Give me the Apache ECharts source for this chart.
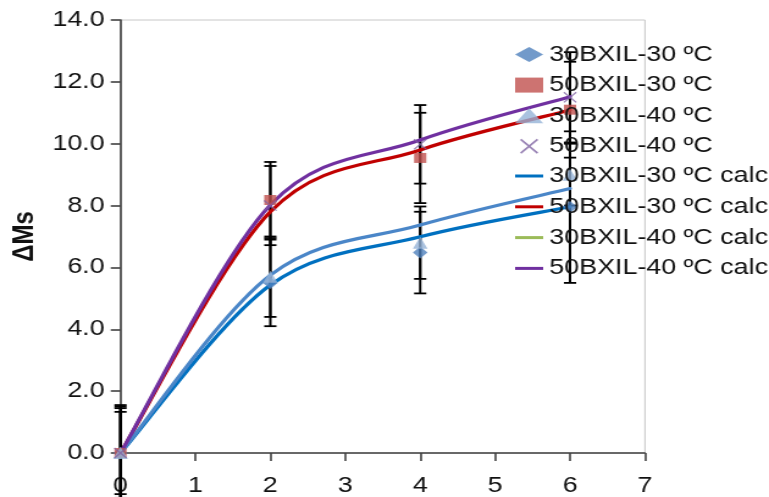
<!DOCTYPE html>
<html>
<head>
<meta charset="utf-8">
<script src="https://cdn.jsdelivr.net/npm/echarts@6/dist/echarts.min.js"></script>
<style>
  html, body { margin: 0; padding: 0; background: #fff; overflow: hidden; }
  #frame { width: 769px; height: 497px; overflow: hidden; }
  /* chart is laid out narrower and widened horizontally */
  #chart { width: 630px; height: 497px; transform: scaleX(1.2206); transform-origin: 0 0; }
</style>
</head>
<body>
<div id="frame"><div id="chart"></div></div>
<script>
// time points (x)
const times = [0, 2, 4, 6];
const xTicks = [0, 1, 2, 3, 4, 5, 6, 7];
const yTicks = [0, 2, 4, 6, 8, 10, 12, 14];

// measured ΔMs
const m30_30 = [0, 5.5, 6.48, 7.95];
const m50_30 = [0, 8.18, 9.54, 11.1];
const m30_40 = [0, 5.7, 6.8, 9.0];
const m50_40 = [0, 8.0, 9.98, 11.5];

// standard deviations of the measurements
const e30_30 = [1.45, 1.4, 1.32, 2.45];
const e50_30 = [1.55, 1.23, 1.46, 1.55];
const e30_40 = [1.33, 1.3, 1.17, 1.0];
const e50_40 = [1.5, 1.28, 1.27, 1.46];

// calculated ΔMs
const c30_30 = [0, 5.43, 6.99, 7.96];
const c50_30 = [0, 7.8, 9.8, 11.09];
const c30_40 = [0, 5.75, 7.37, 8.55];
const c50_40 = [0, 8.02, 10.12, 11.52];

const names = ['30BXIL-30 ºC', '50BXIL-30 ºC', '30BXIL-40 ºC', '50BXIL-40 ºC'];
const calcNames = names.map(n => n + ' calc');

const pts = vals => times.map((t, i) => [t, vals[i]]);
const errPts = (vals, errs) => times.map((t, i) => [t, vals[i], errs[i]]);

const crossPath = 'path://M0,0.8 L0.8,0 L5,4.2 L9.2,0 L10,0.8 L5.8,5 L10,9.2 L9.2,10 L5,5.8 L0.8,10 L0,9.2 L4.2,5 Z';

const FONT = 'Liberation Sans, Arial, sans-serif';

const errorData = []
  .concat(errPts(m30_30, e30_30))
  .concat(errPts(m50_30, e50_30))
  .concat(errPts(m30_40, e30_40))
  .concat(errPts(m50_40, e50_40));

// Catmull-Rom style smoothed segment between point i-1 and point i
function splineSegment(color) {
  return (params, api) => {
    const i = params.dataIndexInside;
    const n = params.dataInsideLength;
    if (i === 0) return null;
    const P = k => {
      const j = Math.max(0, Math.min(n - 1, k));
      return api.coord([api.value(0, j), api.value(1, j)]);
    };
    const p0 = P(i - 2), p1 = P(i - 1), p2 = P(i), p3 = P(i + 1);
    return {
      type: 'bezierCurve',
      shape: {
        x1: p1[0], y1: p1[1],
        cpx1: p1[0] + (p2[0] - p0[0]) / 6, cpy1: p1[1] + (p2[1] - p0[1]) / 6,
        cpx2: p2[0] - (p3[0] - p1[0]) / 6, cpy2: p2[1] - (p3[1] - p1[1]) / 6,
        x2: p2[0], y2: p2[1]
      },
      style: { stroke: color, lineWidth: 3.2, fill: null, lineCap: 'round' }
    };
  };
}

function calcSeries(name, vals, color) {
  return {
    type: 'custom', name: name, data: pts(vals), encode: { x: 0, y: 1 },
    itemStyle: { color: color }, renderItem: splineSegment(color), silent: true
  };
}

const chart = echarts.init(document.getElementById('chart'), null, { renderer: 'canvas' });

chart.setOption({
  animation: false,
  backgroundColor: '#ffffff',
  grid: {
    left: 96.7, right: 101.6, top: 20, bottom: 44,
    show: true, borderColor: '#c8c8c8', borderWidth: 1
  },
  xAxis: {
    type: 'value', min: xTicks[0], max: xTicks[xTicks.length - 1], interval: 1,
    splitLine: { show: false },
    axisLine: { show: true, onZero: false, lineStyle: { color: '#404040', width: 1.6 } },
    axisTick: { show: true, length: 8, lineStyle: { color: '#404040', width: 1.6 } },
    axisLabel: { color: '#111', fontFamily: FONT, fontSize: 22, margin: 22 }
  },
  yAxis: {
    type: 'value', min: yTicks[0], max: yTicks[yTicks.length - 1], interval: 2,
    name: 'ΔMs', nameLocation: 'middle', nameGap: 63, nameRotate: 90,
    nameTextStyle: { color: '#111', fontFamily: FONT, fontSize: 24, fontWeight: 'bold' },
    splitLine: { show: false },
    axisLine: { show: true, lineStyle: { color: '#404040', width: 1.6 } },
    axisTick: { show: true, length: 8, lineStyle: { color: '#404040', width: 1.6 } },
    axisLabel: { color: '#111', fontFamily: FONT, fontSize: 22, margin: 13,
      formatter: v => v.toFixed(1) }
  },
  legend: [
    {
      data: names, orient: 'vertical', left: 417, top: 38.5,
      itemWidth: 23, itemHeight: 15, itemGap: 8.6, selectedMode: false,
      textStyle: { color: '#111', fontFamily: FONT, fontSize: 22, lineHeight: 22 }
    },
    {
      data: [
        { name: calcNames[0], icon: 'rect' },
        { name: calcNames[1], icon: 'rect' },
        { name: calcNames[2], icon: 'rect', itemStyle: { color: '#9bbb59' } },
        { name: calcNames[3], icon: 'rect' }
      ],
      orient: 'vertical', left: 417, top: 160,
      itemWidth: 23, itemHeight: 3, itemGap: 8.8, selectedMode: false,
      textStyle: { color: '#111', fontFamily: FONT, fontSize: 22, lineHeight: 22 }
    }
  ],
  series: [
    {
      type: 'custom', name: 'sd', clip: false, silent: true,
      data: errorData,
      encode: { x: 0, y: 1 },
      renderItem: (params, api) => {
        const x = api.value(0), y = api.value(1), e = api.value(2);
        const top = api.coord([x, y + e]);
        const bot = api.coord([x, y - e]);
        const hw = 5;
        const st = { stroke: '#000', lineWidth: 1.8 };
        return {
          type: 'group',
          children: [
            { type: 'line', shape: { x1: top[0], y1: top[1], x2: bot[0], y2: bot[1] }, style: { stroke: '#000', lineWidth: 2 } },
            { type: 'line', shape: { x1: top[0] - hw, y1: top[1], x2: top[0] + hw, y2: top[1] }, style: st },
            { type: 'line', shape: { x1: bot[0] - hw, y1: bot[1], x2: bot[0] + hw, y2: bot[1] }, style: st }
          ]
        };
      }
    },
    { type: 'scatter', name: names[0], data: pts(m30_30), symbol: 'diamond', symbolSize: 12,
      itemStyle: { color: '#4f81bd' } },
    { type: 'scatter', name: names[1], data: pts(m50_30), symbol: 'rect', symbolSize: 10,
      itemStyle: { color: '#c0504d' } },
    { type: 'scatter', name: names[2], data: pts(m30_40), symbol: 'triangle', symbolSize: 12,
      itemStyle: { color: '#95b3d7' } },
    { type: 'scatter', name: names[3], data: pts(m50_40), symbol: crossPath, symbolSize: 11,
      itemStyle: { color: '#8064a2' } },
    calcSeries(calcNames[0], c30_30, '#0070c0'),
    calcSeries(calcNames[1], c50_30, '#c00000'),
    calcSeries(calcNames[2], c30_40, '#4a86c8'),
    calcSeries(calcNames[3], c50_40, '#7030a0')
  ]
});
</script>
</body>
</html>
